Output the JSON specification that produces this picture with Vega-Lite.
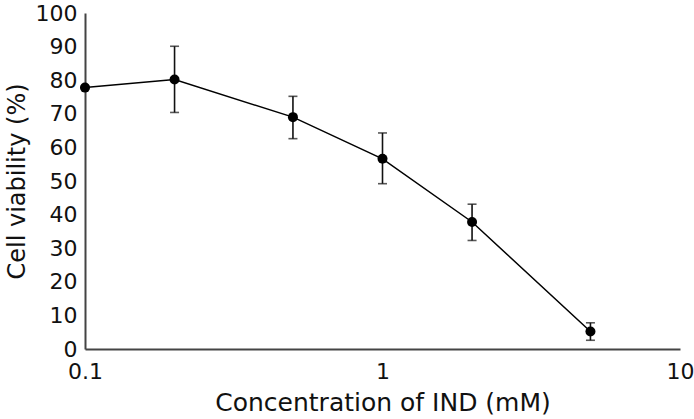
{
  "$schema": "https://vega.github.io/schema/vega-lite/v6.json",
  "width": 595,
  "height": 336,
  "autosize": "none",
  "padding": {"left": 85, "top": 13, "right": 14, "bottom": 70},
  "background": "white",
  "config": {
    "view": {"stroke": null},
    "axis": {"labelFont": "DejaVu Sans", "titleFont": "DejaVu Sans", "labelFontSize": 22, "titleFontSize": 24, "labelColor": "#111", "titleColor": "#111", "titleFontWeight": "normal", "domainColor": "#444", "domainWidth": 2, "grid": false, "ticks": false, "labelOverlap": false, "labelFlush": false}
  },
  "data": {
    "values": [
      {"conc": 0.1, "viab": 77.8, "lo": 77.8, "hi": 77.8},
      {"conc": 0.2, "viab": 80.2, "lo": 70.4, "hi": 90.1},
      {"conc": 0.5, "viab": 69.0, "lo": 62.6, "hi": 75.2},
      {"conc": 1, "viab": 56.6, "lo": 49.2, "hi": 64.3},
      {"conc": 2, "viab": 37.8, "lo": 32.3, "hi": 43.1},
      {"conc": 5, "viab": 5.2, "lo": 2.6, "hi": 7.8}
    ]
  },
  "encoding": {
    "x": {"field": "conc", "type": "quantitative", "scale": {"type": "log", "domain": [0.1, 10], "nice": false},
      "axis": {"values": [0.1, 1, 10], "format": "~g", "title": "Concentration of IND (mM)", "titleFontSize": 25, "labelPadding": 12, "titlePadding": 8}},
    "y": {"field": "viab", "type": "quantitative", "scale": {"domain": [0, 100], "nice": false},
      "axis": {"values": [0,10,20,30,40,50,60,70,80,90,100], "tickCount": 11, "labelOverlap": false, "title": "Cell viability (%)", "labelPadding": 8, "titlePadding": 6}}
  },
  "layer": [
    {
      "mark": {"type": "rule", "color": "#111", "strokeWidth": 1.6},
      "encoding": {
        "y": {"field": "lo", "type": "quantitative"},
        "y2": {"field": "hi"}
      }
    },
    {
      "mark": {"type": "tick", "orient": "horizontal", "color": "#111", "size": 9, "thickness": 1.6},
      "encoding": {"y": {"field": "lo", "type": "quantitative"}}
    },
    {
      "mark": {"type": "tick", "orient": "horizontal", "color": "#111", "size": 9, "thickness": 1.6},
      "encoding": {"y": {"field": "hi", "type": "quantitative"}}
    },
    {
      "mark": {"type": "line", "color": "black", "strokeWidth": 1.5},
      "encoding": {}
    },
    {
      "mark": {"type": "point", "filled": true, "color": "black", "size": 100, "opacity": 1},
      "encoding": {}
    }
  ]
}
